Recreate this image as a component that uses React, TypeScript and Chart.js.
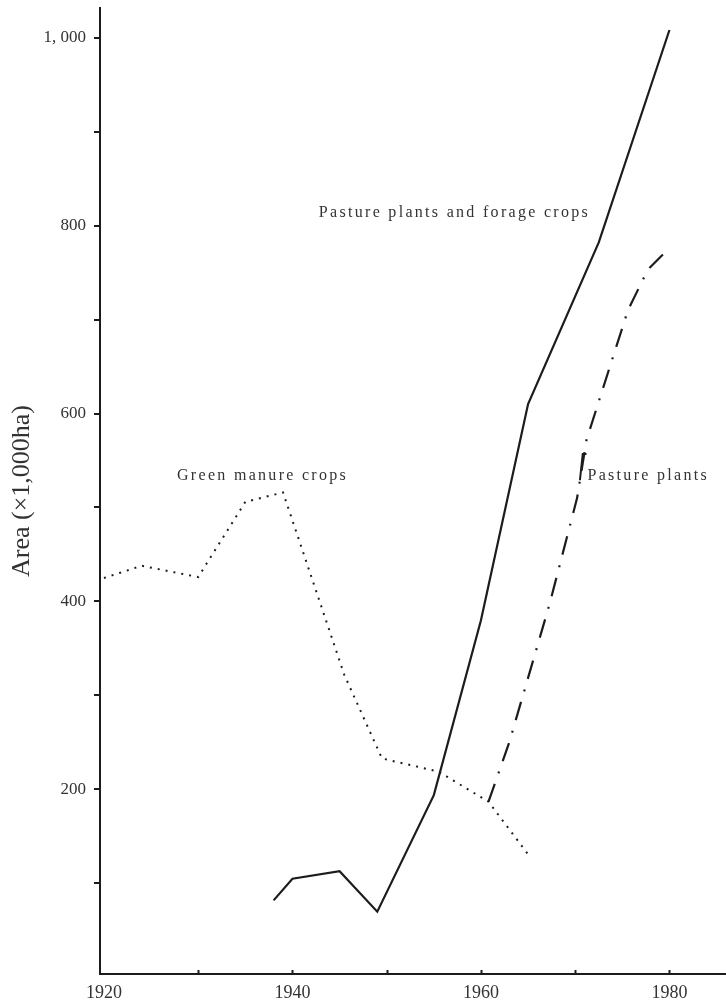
import React, { useEffect, useRef } from 'react';
import { Chart, registerables } from 'chart.js';

Chart.register(...registerables);

// ---- data ----
const forageYears = [1938, 1940, 1945, 1949, 1955, 1960, 1965, 1972.5, 1980];
const forageValues = [82, 105, 113, 70, 194, 380, 610, 782, 1008];

const manureYears = [1920, 1924, 1930, 1935, 1939, 1945.5, 1949.5, 1955.5, 1960.8, 1965];
const manureValues = [425, 438, 426, 506, 516, 322, 233, 219, 187, 131];

const pastureYears = [1960.8, 1963, 1967.3, 1970.2, 1971.2, 1975.6, 1977.7, 1980];
const pastureValues = [187, 250, 398, 510, 572, 710, 753, 776];

const xTickValues = [1930, 1940, 1950, 1960, 1970, 1980];
const xLabelValues = [1920, 1940, 1960, 1980];

const yTickValues = [100, 200, 300, 400, 500, 600, 700, 800, 900, 1000];
const yLabelValues = [200, 400, 600, 800, 1000];
const yLabelTexts = ['200', '400', '600', '800', '1, 000'];

const seriesNames = ['Pasture plants and forage crops', 'Green manure crops', 'Pasture plants'];
const labelYears = [1942.8, 1927.75, 1971.3];
const labelValues = [814, 533.5, 533.5];

const axisTitle = 'Area (×1,000ha)';

const FONT = '"Liberation Serif", "Times New Roman", serif';
const INK = '#1c1c1c';
const TEXT = '#333333';

function toPoints(xs: number[], ys: number[]) {
  return xs.map((x, i) => ({ x, y: ys[i] }));
}

const overlayPlugin = {
  id: 'overlay',
  afterDatasetsDraw(chart: any) {
    const { ctx, chartArea } = chart;
    const xs = chart.scales.x;
    const ys = chart.scales.y;
    ctx.save();
    // inward x tick marks
    ctx.strokeStyle = INK;
    ctx.lineWidth = 2;
    xTickValues.forEach((v) => {
      const px = Math.round(xs.getPixelForValue(v)) + 0.5;
      ctx.beginPath();
      ctx.moveTo(px, chartArea.bottom);
      ctx.lineTo(px, chartArea.bottom - 4);
      ctx.stroke();
    });
    // series labels
    ctx.fillStyle = TEXT;
    ctx.font = `16px ${FONT}`;
    (ctx as any).letterSpacing = '2.3px';
    ctx.textAlign = 'left';
    ctx.textBaseline = 'middle';
    seriesNames.forEach((t, i) => {
      ctx.fillText(t, xs.getPixelForValue(labelYears[i]), ys.getPixelForValue(labelValues[i]));
    });
    // small leader mark beside "Pasture plants"
    ctx.lineWidth = 2;
    ctx.beginPath();
    ctx.moveTo(xs.getPixelForValue(1970.5), ys.getPixelForValue(529));
    ctx.lineTo(xs.getPixelForValue(1970.8), ys.getPixelForValue(557));
    ctx.lineTo(xs.getPixelForValue(1971.2), ys.getPixelForValue(557));
    ctx.stroke();
    ctx.restore();
  },
};

export default function App() {
  const ref = useRef<HTMLCanvasElement | null>(null);

  useEffect(() => {
    if (!ref.current) return;
    const chart = new Chart(ref.current, {
      type: 'line',
      data: {
        datasets: [
          {
            label: seriesNames[0],
            data: toPoints(forageYears, forageValues),
            borderColor: INK,
            borderWidth: 2.2,
            pointRadius: 0,
            tension: 0,
            fill: false,
          },
          {
            label: seriesNames[1],
            data: toPoints(manureYears, manureValues),
            borderColor: INK,
            borderWidth: 2,
            borderDash: [2, 6],
            pointRadius: 0,
            tension: 0,
            fill: false,
          },
          {
            label: seriesNames[2],
            data: toPoints(pastureYears, pastureValues),
            borderColor: INK,
            borderWidth: 2.2,
            borderDash: [19, 11, 2, 11],
            pointRadius: 0,
            tension: 0,
            fill: false,
          },
        ],
      },
      options: {
        responsive: false,
        animation: false,
        devicePixelRatio: 1,
        layout: { padding: { top: 8, right: 0, left: 0, bottom: 0 } },
        plugins: { legend: { display: false }, tooltip: { enabled: false } },
        scales: {
          x: {
            type: 'linear',
            min: 1919.58,
            max: 1986,
            afterBuildTicks: (s: any) => {
              s.ticks = xLabelValues.concat(xTickValues.filter((v) => !xLabelValues.includes(v)))
                .sort((a, b) => a - b)
                .map((v) => ({ value: v }));
            },
            afterFit: (s: any) => {
              s.height = 27;
              s.paddingLeft = 0;
              s.paddingRight = 0;
            },
            grid: { display: true, drawOnChartArea: false, drawTicks: false },
            border: { display: true, color: INK, width: 2 },
            ticks: {
              autoSkip: false,
              maxRotation: 0,
              padding: 8,
              color: TEXT,
              font: { family: FONT, size: 18 },
              callback: (v: any) => (xLabelValues.includes(Number(v)) ? String(v) : ''),
            },
          },
          y: {
            type: 'linear',
            min: 3.7,
            max: 1031.4,
            afterBuildTicks: (s: any) => {
              s.ticks = yTickValues.map((v) => ({ value: v }));
            },
            afterFit: (s: any) => {
              s.width = 100;
              s.paddingTop = 0;
              s.paddingBottom = 0;
            },
            grid: {
              display: true,
              drawOnChartArea: false,
              drawTicks: true,
              tickLength: 6,
              color: INK,
              lineWidth: 2,
            },
            border: { display: true, color: INK, width: 2 },
            ticks: {
              autoSkip: false,
              padding: 8,
              color: TEXT,
              font: { family: FONT, size: 17 },
              callback: (v: any) => {
                const i = yLabelValues.indexOf(Number(v));
                return i >= 0 ? yLabelTexts[i] : '';
              },
            },
            title: {
              display: true,
              text: axisTitle,
              color: TEXT,
              font: { family: FONT, size: 26 },
              padding: { top: 7, bottom: 0 },
            },
          },
        },
      } as any,
      plugins: [overlayPlugin],
    });
    return () => chart.destroy();
  }, []);

  return (
    <div style={{ position: 'absolute', left: 0, top: 0, width: 726, height: 1001, background: '#fff' }}>
      <canvas ref={ref} width={726} height={1001} style={{ display: 'block' }} />
    </div>
  );
}
